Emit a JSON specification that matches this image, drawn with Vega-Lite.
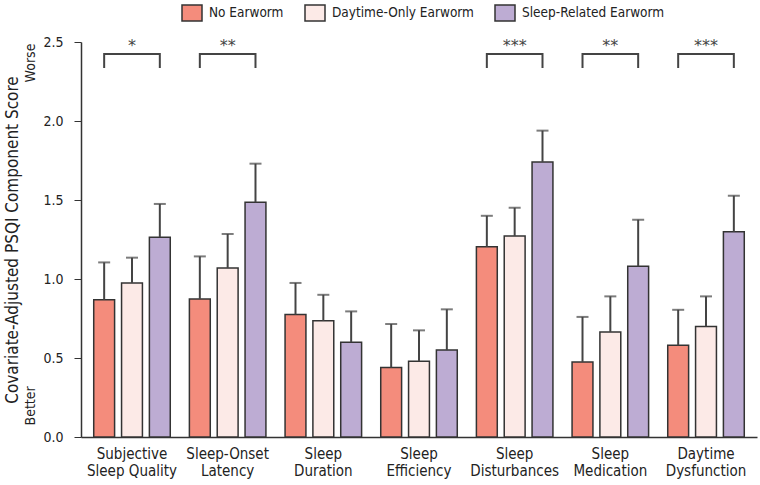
{
  "$schema": "https://vega.github.io/schema/vega-lite/v6.json",
  "width": 676,
  "height": 395,
  "autosize": {"type": "none"},
  "padding": {"left": 81, "top": 42, "right": 3, "bottom": 48},
  "config": {
    "font": "'DejaVu Sans Condensed', Roboto, sans-serif",
    "view": {"stroke": null},
    "axis": {"labelColor": "#222", "titleColor": "#222", "domainColor": "#333", "tickColor": "#333", "grid": false}
  },
  "datasets": {
    "bars": [
      {"cat": "Subjective|Sleep Quality", "group": "No Earworm", "mean": 0.869, "upper": 1.105},
      {"cat": "Subjective|Sleep Quality", "group": "Daytime-Only Earworm", "mean": 0.975, "upper": 1.135},
      {"cat": "Subjective|Sleep Quality", "group": "Sleep-Related Earworm", "mean": 1.265, "upper": 1.475},
      {"cat": "Sleep-Onset|Latency", "group": "No Earworm", "mean": 0.874, "upper": 1.143},
      {"cat": "Sleep-Onset|Latency", "group": "Daytime-Only Earworm", "mean": 1.07, "upper": 1.285},
      {"cat": "Sleep-Onset|Latency", "group": "Sleep-Related Earworm", "mean": 1.485, "upper": 1.73},
      {"cat": "Sleep|Duration", "group": "No Earworm", "mean": 0.775, "upper": 0.975},
      {"cat": "Sleep|Duration", "group": "Daytime-Only Earworm", "mean": 0.735, "upper": 0.9},
      {"cat": "Sleep|Duration", "group": "Sleep-Related Earworm", "mean": 0.6, "upper": 0.795},
      {"cat": "Sleep|Efficiency", "group": "No Earworm", "mean": 0.44, "upper": 0.715},
      {"cat": "Sleep|Efficiency", "group": "Daytime-Only Earworm", "mean": 0.48, "upper": 0.675},
      {"cat": "Sleep|Efficiency", "group": "Sleep-Related Earworm", "mean": 0.55, "upper": 0.808},
      {"cat": "Sleep|Disturbances", "group": "No Earworm", "mean": 1.204, "upper": 1.4},
      {"cat": "Sleep|Disturbances", "group": "Daytime-Only Earworm", "mean": 1.272, "upper": 1.451},
      {"cat": "Sleep|Disturbances", "group": "Sleep-Related Earworm", "mean": 1.741, "upper": 1.939},
      {"cat": "Sleep|Medication", "group": "No Earworm", "mean": 0.475, "upper": 0.76},
      {"cat": "Sleep|Medication", "group": "Daytime-Only Earworm", "mean": 0.665, "upper": 0.89},
      {"cat": "Sleep|Medication", "group": "Sleep-Related Earworm", "mean": 1.08, "upper": 1.375},
      {"cat": "Daytime|Dysfunction", "group": "No Earworm", "mean": 0.58, "upper": 0.805},
      {"cat": "Daytime|Dysfunction", "group": "Daytime-Only Earworm", "mean": 0.7, "upper": 0.89},
      {"cat": "Daytime|Dysfunction", "group": "Sleep-Related Earworm", "mean": 1.299, "upper": 1.527}
    ],
    "brackets": [
      {"cat": "Subjective|Sleep Quality", "group": "No Earworm", "y": 2.335, "ord": 1},
      {"cat": "Subjective|Sleep Quality", "group": "No Earworm", "y": 2.424, "ord": 2},
      {"cat": "Subjective|Sleep Quality", "group": "Sleep-Related Earworm", "y": 2.424, "ord": 3},
      {"cat": "Subjective|Sleep Quality", "group": "Sleep-Related Earworm", "y": 2.335, "ord": 4},
      {"cat": "Sleep-Onset|Latency", "group": "No Earworm", "y": 2.335, "ord": 1},
      {"cat": "Sleep-Onset|Latency", "group": "No Earworm", "y": 2.424, "ord": 2},
      {"cat": "Sleep-Onset|Latency", "group": "Sleep-Related Earworm", "y": 2.424, "ord": 3},
      {"cat": "Sleep-Onset|Latency", "group": "Sleep-Related Earworm", "y": 2.335, "ord": 4},
      {"cat": "Sleep|Disturbances", "group": "No Earworm", "y": 2.335, "ord": 1},
      {"cat": "Sleep|Disturbances", "group": "No Earworm", "y": 2.424, "ord": 2},
      {"cat": "Sleep|Disturbances", "group": "Sleep-Related Earworm", "y": 2.424, "ord": 3},
      {"cat": "Sleep|Disturbances", "group": "Sleep-Related Earworm", "y": 2.335, "ord": 4},
      {"cat": "Sleep|Medication", "group": "No Earworm", "y": 2.335, "ord": 1},
      {"cat": "Sleep|Medication", "group": "No Earworm", "y": 2.424, "ord": 2},
      {"cat": "Sleep|Medication", "group": "Sleep-Related Earworm", "y": 2.424, "ord": 3},
      {"cat": "Sleep|Medication", "group": "Sleep-Related Earworm", "y": 2.335, "ord": 4},
      {"cat": "Daytime|Dysfunction", "group": "No Earworm", "y": 2.335, "ord": 1},
      {"cat": "Daytime|Dysfunction", "group": "No Earworm", "y": 2.424, "ord": 2},
      {"cat": "Daytime|Dysfunction", "group": "Sleep-Related Earworm", "y": 2.424, "ord": 3},
      {"cat": "Daytime|Dysfunction", "group": "Sleep-Related Earworm", "y": 2.335, "ord": 4}
    ],
    "stars": [
      {"cat": "Subjective|Sleep Quality", "group": "Daytime-Only Earworm", "y": 2.44, "label": "*"},
      {"cat": "Sleep-Onset|Latency", "group": "Daytime-Only Earworm", "y": 2.44, "label": "**"},
      {"cat": "Sleep|Disturbances", "group": "Daytime-Only Earworm", "y": 2.44, "label": "***"},
      {"cat": "Sleep|Medication", "group": "Daytime-Only Earworm", "y": 2.44, "label": "**"},
      {"cat": "Daytime|Dysfunction", "group": "Daytime-Only Earworm", "y": 2.44, "label": "***"}
    ]
  },
  "layer": [
    {
      "data": {"name": "bars"},
      "mark": {"type": "bar", "stroke": "#333", "strokeWidth": 1.5},
      "encoding": {
        "x": {"field": "cat", "type": "nominal", "sort": null,
          "scale": {"paddingInner": 0.2, "paddingOuter": 0.133},
          "axis": {"title": null, "labelAngle": 0, "ticks": false, "labelPadding": 9, "labelFontSize": 15, "labelLineHeight": 17, "labelExpr": "split(datum.label, '|')", "domainWidth": 1.5, "labelBaseline": "top"}},
        "xOffset": {"field": "group", "type": "nominal", "sort": null, "scale": {"paddingInner": 0.25}},
        "y": {"field": "mean", "type": "quantitative",
          "scale": {"domain": [0, 2.5], "nice": false},
          "axis": {"values": [0, 0.5, 1, 1.5, 2, 2.5], "format": ".1f", "tickSize": 7, "labelPadding": 11, "labelFontSize": 14, "title": "Covariate-Adjusted PSQI Component Score", "titleFontSize": 17, "titleFontWeight": "normal", "titlePadding": 21, "domainWidth": 1.5}},
        "color": {"field": "group", "type": "nominal", "sort": null,
          "scale": {"domain": ["No Earworm", "Daytime-Only Earworm", "Sleep-Related Earworm"], "range": ["#F48C7C", "#FCEAE7", "#BDACD3"]},
          "legend": {"title": null, "orient": "none", "direction": "horizontal", "legendX": 100, "legendY": -40, "labelFontSize": 13.5, "labelColor": "#222", "symbolType": "M-1,-0.8H1V0.8H-1Z", "symbolSize": 400, "symbolStrokeColor": "#333", "symbolStrokeWidth": 1.5, "symbolOpacity": 1, "columnPadding": 18, "labelOffset": 6, "padding": 0}}
      }
    },
    {
      "data": {"name": "bars"},
      "mark": {"type": "rule", "color": "#444", "strokeWidth": 2},
      "encoding": {
        "x": {"field": "cat", "type": "nominal", "sort": null},
        "xOffset": {"field": "group", "type": "nominal", "sort": null},
        "y": {"field": "mean", "type": "quantitative", "axis": null, "scale": {"domain": [0, 2.5], "nice": false}},
        "y2": {"field": "upper"}
      }
    },
    {
      "data": {"name": "bars"},
      "mark": {"type": "tick", "color": "#444", "thickness": 2, "size": 12, "orient": "horizontal"},
      "encoding": {
        "x": {"field": "cat", "type": "nominal", "sort": null},
        "xOffset": {"field": "group", "type": "nominal", "sort": null},
        "y": {"field": "upper", "type": "quantitative", "axis": null, "scale": {"domain": [0, 2.5], "nice": false}}
      }
    },
    {
      "data": {"name": "brackets"},
      "mark": {"type": "line", "color": "#444", "strokeWidth": 2, "strokeJoin": "miter"},
      "encoding": {
        "x": {"field": "cat", "type": "nominal", "sort": null},
        "xOffset": {"field": "group", "type": "nominal", "sort": null},
        "y": {"field": "y", "type": "quantitative", "axis": null, "scale": {"domain": [0, 2.5], "nice": false}},
        "detail": {"field": "cat"},
        "order": {"field": "ord"}
      }
    },
    {
      "data": {"name": "stars"},
      "mark": {"type": "text", "font": "DejaVu Sans", "fontSize": 16, "color": "#444", "baseline": "alphabetic"},
      "encoding": {
        "x": {"field": "cat", "type": "nominal", "sort": null},
        "xOffset": {"field": "group", "type": "nominal", "sort": null},
        "y": {"field": "y", "type": "quantitative", "scale": {"domain": [0, 2.5], "nice": false},
          "axis": {"orient": "left", "values": [0.2, 2.37], "labelExpr": "datum.value < 1 ? 'Better' : 'Worse'", "labelAngle": -90, "labelAlign": "center", "labelBaseline": "bottom", "labelFlush": false, "labelOverlap": false, "ticks": false, "domain": false, "labelPadding": 44, "labelFontSize": 14, "title": null}},
        "text": {"field": "label"}
      }
    }
  ],
  "resolve": {"axis": {"y": "independent"}}
}
